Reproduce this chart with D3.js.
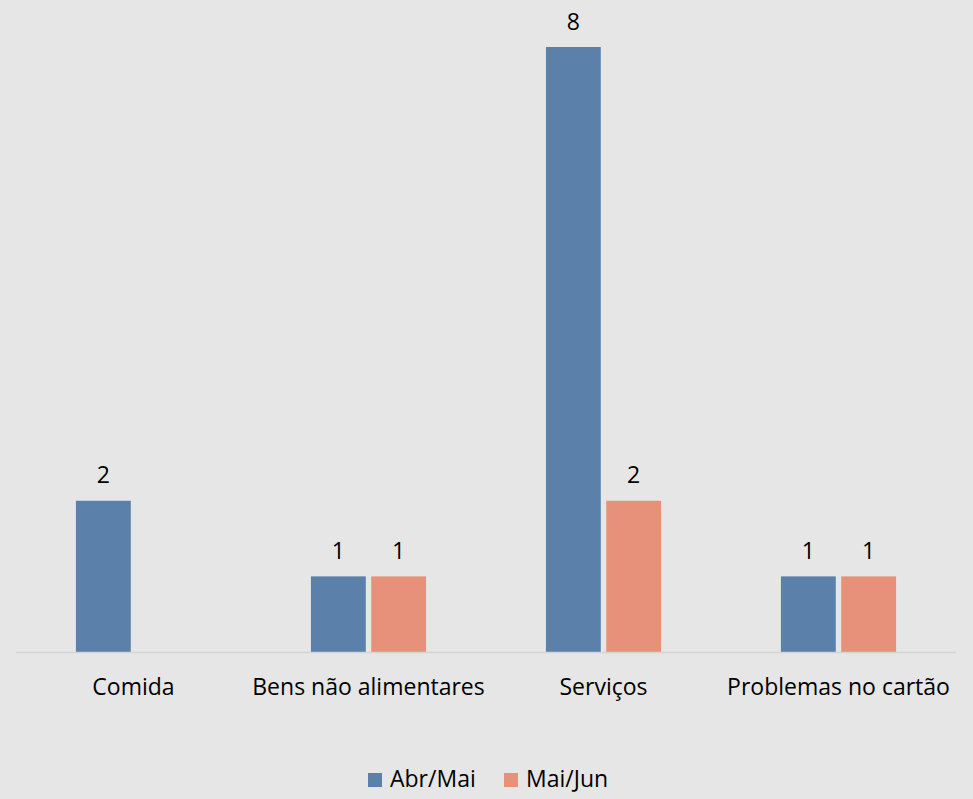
<!DOCTYPE html>
<html><head><meta charset="utf-8">
<script src="https://cdn.jsdelivr.net/npm/d3@7"></script>
<style>
html,body{margin:0;padding:0;background:#e6e6e6;}
svg{display:block;font-family:"Open Sans",Lato,sans-serif;}
</style></head>
<body>
<svg id="chart" width="973" height="799"></svg>
<script>
const categories = ["Comida", "Bens não alimentares", "Serviços", "Problemas no cartão"];
const seriesNames = ["Abr/Mai", "Mai/Jun"];
const abrMai = [2, 1, 8, 1];
const maiJun = [0, 1, 2, 1];
const colors = ["#5b80aa", "#e8917a"];

const W = 973, H = 799;
const FS = 23;
const svg = d3.select("#chart");
svg.append("rect").attr("width", W).attr("height", H).attr("fill", "#e6e6e6");

const baseY = 652, topY = 47;
const x = d3.scaleBand().domain(categories).range([16, 956]).paddingInner(0.51).paddingOuter(0.255);
const xs = d3.scaleBand().domain(seriesNames).range([0, x.bandwidth()]).paddingInner(0.09);
const y = d3.scaleLinear().domain([0, 8]).range([baseY, topY]);

const data = categories.map((c, i) => ({cat: c, vals: [abrMai[i], maiJun[i]]}));

const g = svg.append("g");
const groups = g.selectAll("g.grp").data(data).join("g")
  .attr("transform", d => `translate(${x(d.cat)},0)`);

groups.selectAll("rect").data(d => d.vals.map((v, k) => ({v, k})).filter(e => e.v > 0)).join("rect")
  .attr("x", e => xs(seriesNames[e.k]))
  .attr("width", xs.bandwidth())
  .attr("y", e => y(e.v))
  .attr("height", e => y(0) - y(e.v))
  .attr("fill", e => colors[e.k]);

groups.selectAll("text.val").data(d => d.vals.map((v, k) => ({v, k})).filter(e => e.v > 0)).join("text")
  .attr("class", "val")
  .attr("x", e => xs(seriesNames[e.k]) + xs.bandwidth() / 2)
  .attr("y", e => y(e.v) - 17.5)
  .attr("text-anchor", "middle")
  .attr("font-size", FS)
  .attr("fill", "#000")
  .text(e => e.v);

// baseline
svg.append("line").attr("x1", 16).attr("x2", 956).attr("y1", baseY + 0.5).attr("y2", baseY + 0.5)
  .attr("stroke", "#d4d4d4").attr("stroke-width", 1.5);

// category axis labels
const xAxis = d3.axisBottom(x).tickSize(0).tickPadding(0);
const ax = svg.append("g").attr("transform", `translate(0,${baseY})`).call(xAxis);
ax.select(".domain").remove();
ax.selectAll("text").attr("font-size", FS).attr("fill", "#000")
  .attr("font-family", '"Open Sans",Lato,sans-serif').attr("dy", 0).attr("y", 43);

// legend
const legend = svg.append("g");
const legX = [368, 504];
seriesNames.forEach((s, i) => {
  legend.append("rect").attr("x", legX[i]).attr("y", 773).attr("width", 14).attr("height", 14).attr("fill", colors[i]);
  legend.append("text").attr("x", legX[i] + 22).attr("y", 787).attr("font-size", FS).attr("fill", "#000").text(s);
});
</script>
</body></html>
